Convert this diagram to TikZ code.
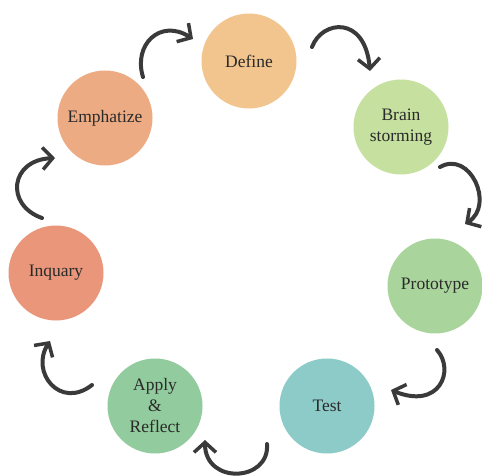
\documentclass[tikz,border=0pt]{standalone}
\usepackage{fontspec}
\setmainfont{Liberation Serif}
\usetikzlibrary{arrows.meta}
\definecolor{cdef}{HTML}{F3C58E}
\definecolor{cemp}{HTML}{EDAB83}
\definecolor{cbra}{HTML}{C6E0A0}
\definecolor{cinq}{HTML}{E9967B}
\definecolor{cpro}{HTML}{A9D59C}
\definecolor{ctes}{HTML}{8CCBC7}
\definecolor{capp}{HTML}{92CB9D}
\definecolor{carr}{HTML}{3A3A3A}
\definecolor{ctxt}{HTML}{2A2A2A}
\tikzset{
  stage/.style={circle, minimum size=95pt, inner sep=0pt, align=center,
    font=\fontsize{17.5}{21}\selectfont, text=ctxt},
  cyclearrow/.style={draw=carr, line width=4pt, line cap=round,
    -{Straight Barb[length=10pt,width=22pt,line width=3.5pt]}}
}
\begin{document}
\begin{tikzpicture}[x=1pt,y=-1pt]
\useasboundingbox (0,0) rectangle (482,475);
\fill[white] (0,0) rectangle (482,475);
\node[stage, fill=cdef] (def) at (249,61) {Define};
\node[stage, fill=cemp] (emp) at (105,118) {Emphatize};
\node[stage, fill=cbra] (bra) at (401,127) {Brain\\storming};
\node[stage, fill=cinq] (inq) at (56,273) {Inquary};
\node[stage, fill=cpro] (pro) at (435,286) {Prototype};
\node[stage, fill=ctes] (tes) at (327,406) {Test};
\node[stage, fill=capp] (app) at (155,406) {Apply\\\&\\Reflect};
% arrow end points
\coordinate (a1s) at (143,77);  \coordinate (a1e) at (193,39);
\coordinate (a2s) at (312,47);  \coordinate (a2e) at (370,71);
\coordinate (a3s) at (440,167); \coordinate (a3e) at (465,224);
\coordinate (a4s) at (437,350); \coordinate (a4e) at (391,390);
\coordinate (a5s) at (267,444); \coordinate (a5e) at (205,440);
\coordinate (a6s) at (92,385);  \coordinate (a6e) at (50,341);
\coordinate (a7s) at (42,218);  \coordinate (a7e) at (55,158);
\draw[cyclearrow] (a1s) .. controls (133,45) and (160,18) .. (a1e);
\draw[cyclearrow] (a2s) .. controls (322,20) and (365,15) .. (a2e);
\draw[cyclearrow] (a3s) .. controls (470,150) and (495,205) .. (a3e);
\draw[cyclearrow] (a4s) .. controls (455,370) and (440,410) .. (a4e);
\draw[cyclearrow] (a5s) .. controls (270,482) and (205,485) .. (a5e);
\draw[cyclearrow] (a6s) .. controls (60,410) and (30,372) .. (a6e);
\draw[cyclearrow] (a7s) .. controls (5,205) and (10,160) .. (a7e);
\end{tikzpicture}
\end{document}
